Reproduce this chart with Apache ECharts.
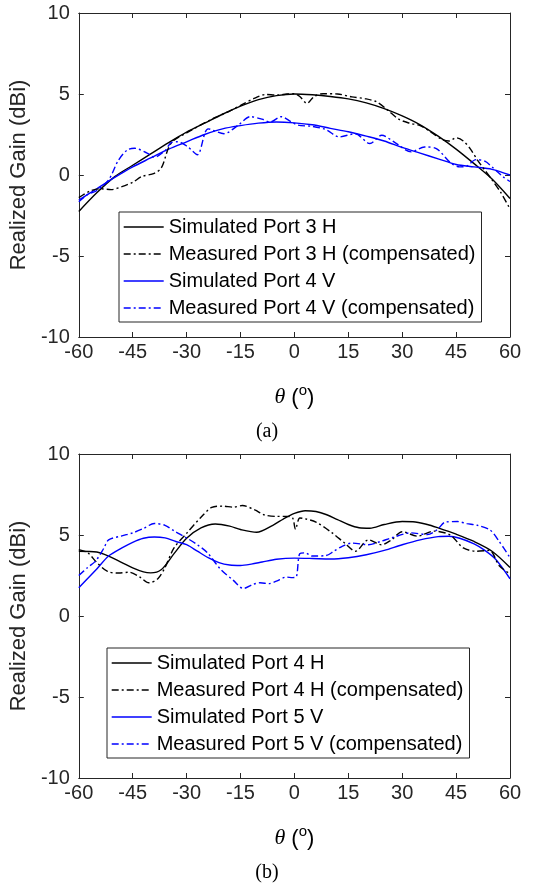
<!DOCTYPE html>
<html>
<head>
<meta charset="utf-8">
<script src="https://cdn.jsdelivr.net/npm/echarts/dist/echarts.min.js"></script>
<style>
html, body { margin: 0; padding: 0; background: #fff; }
#chart { width: 534px; height: 886px; }
</style>
</head>
<body>
<div id="chart"></div>
<script>
// theta axis (deg) and tick values
const xTicks = [-60, -45, -30, -15, 0, 15, 30, 45, 60]
const yTicks = [-10, -5, 0, 5, 10]
const thetaStep5 = [-60, -55, -50, -45, -40, -35, -30, -25, -20, -15, -10, -5, 0, 5, 10, 15, 20, 25, 30, 35, 40, 45, 50, 55, 60]

// (a) Port 3 H / Port 4 V
const simH3 = [-2.25, -1.1, -0.1, 0.6, 1.3, 2.0, 2.65, 3.2, 3.75, 4.25, 4.65, 4.9, 5.0, 4.95, 4.85, 4.7, 4.45, 4.1, 3.65, 3.1, 2.4, 1.6, 0.7, -0.25, -1.45]

const thetaMeasH3 = [-60, -57, -54, -51, -48, -45, -42.5, -39, -37, -35, -33.5, -30, -26, -22, -18, -15, -11, -8, -5, -2, 0, 1.5, 3.5, 5.5, 8, 12, 16, 20, 23, 26, 29, 32, 35, 38, 41, 43, 45, 47, 49, 51, 53, 55, 57.5, 60]
const measH3 = [-1.4, -1.0, -0.85, -0.9, -0.72, -0.45, -0.1, 0.1, 0.45, 1.7, 2.15, 2.6, 3.1, 3.55, 3.95, 4.3, 4.75, 4.97, 4.93, 5.0, 5.02, 4.85, 4.42, 4.85, 5.02, 5.0, 4.82, 4.7, 4.5, 4.0, 3.45, 3.2, 3.05, 2.65, 2.2, 2.1, 2.3, 2.1, 1.6, 0.9, 0.3, -0.3, -1.1, -2.1]

const simV4 = [-1.55, -0.85, -0.15, 0.5, 1.05, 1.6, 2.05, 2.5, 2.85, 3.05, 3.2, 3.27, 3.22, 3.1, 2.88, 2.67, 2.4, 2.1, 1.7, 1.35, 1.0, 0.65, 0.5, 0.35, 0.0]

const thetaMeasV4 = [-60, -57.5, -55.3, -51.7, -49, -46.5, -44.5, -41, -39, -36, -34.3, -32.5, -29.7, -27, -24, -19.6, -15.5, -12.3, -9, -6.8, -3.7, -1, 1, 5, 8.8, 12.5, 16.9, 21, 24.3, 28, 32.5, 36.2, 39.5, 43.5, 46, 48, 50.5, 53, 55.5, 58, 60]
const measV4 = [-1.65, -1.2, -1.0, -0.3, 0.9, 1.55, 1.65, 1.35, 1.1, 1.5, 2.0, 2.05, 1.75, 1.25, 2.85, 2.55, 3.1, 3.6, 3.45, 3.27, 3.6, 3.3, 3.08, 3.0, 2.8, 2.35, 2.55, 1.94, 2.45, 2.0, 1.43, 1.73, 1.63, 0.75, 0.5, 0.55, 0.95, 0.85, 0.4, -0.1, -0.4]

// (b) Port 4 H / Port 5 V
const thetaSimH4 = [-60, -55, -51.7, -48, -45, -42, -40, -37, -33.5, -30, -26, -22, -18, -15, -10.5, -6, -3, 0, 3, 6, 9, 12, 15, 18, 21, 25, 30, 33, 37, 40, 45, 50, 55, 60]
const simH4 = [4.0, 3.95, 3.7, 3.3, 2.97, 2.72, 2.66, 2.87, 3.85, 4.8, 5.44, 5.68, 5.55, 5.34, 5.17, 5.6, 6.0, 6.33, 6.5, 6.45, 6.25, 5.95, 5.65, 5.45, 5.42, 5.65, 5.83, 5.82, 5.65, 5.44, 5.05, 4.6, 4.0, 3.0]

const thetaMeasH4 = [-60, -57.5, -55, -52, -49, -46, -43, -40.5, -38, -36, -33.5, -30, -26, -23, -20, -17, -14.5, -11, -8.5, -5, -2, -0.5, 0.3, 1.5, 3, 6, 10.5, 14, 17, 20.6, 24.2, 27, 30, 34.3, 38.8, 43.4, 47, 50.7, 54.3, 57, 60]
const measH4 = [4.1, 3.9, 3.3, 2.75, 2.65, 2.7, 2.4, 2.05, 2.3, 3.0, 4.2, 5.1, 6.1, 6.7, 6.78, 6.72, 6.82, 6.55, 6.25, 6.15, 6.15, 6.05, 5.35, 6.05, 6.0, 5.8, 5.13, 4.5, 4.0, 4.7, 4.4, 4.7, 5.2, 4.93, 5.24, 5.0, 4.2, 4.0, 4.05, 3.1, 2.6]

const thetaSimV5 = [-60, -55, -51.7, -48, -45, -42, -39, -36, -33, -30, -27, -24, -21, -18, -15, -12, -9, -5, 0, 5, 10, 15, 20, 25, 30, 35, 40, 43, 46, 50, 53, 56, 60]
const simV5 = [1.75, 2.9, 3.7, 4.2, 4.55, 4.8, 4.88, 4.82, 4.6, 4.4, 4.0, 3.6, 3.3, 3.15, 3.12, 3.2, 3.33, 3.5, 3.57, 3.55, 3.52, 3.6, 3.78, 4.05, 4.4, 4.7, 4.9, 4.92, 4.8, 4.45, 4.05, 3.5, 2.3]

const thetaMeasV5 = [-60, -57.5, -55.3, -53, -51.7, -48, -45, -42, -39, -36, -33.4, -30, -27, -24.2, -20.6, -17, -14.2, -11.5, -9.6, -7, -5, -2.3, -0.5, 0.5, 1.5, 3, 5, 8.8, 11, 13.3, 16, 20.6, 24, 27, 32.4, 37, 39.8, 42, 45.4, 48, 50.9, 54.5, 57, 60]
const measV5 = [2.5, 3.0, 3.4, 4.2, 4.7, 4.95, 5.13, 5.4, 5.71, 5.6, 5.24, 4.82, 4.4, 3.9, 2.9, 2.2, 1.7, 1.95, 2.05, 2.0, 2.15, 2.4, 2.37, 2.4, 3.85, 3.9, 3.7, 3.73, 4.0, 4.3, 4.5, 4.4, 4.6, 4.82, 5.13, 5.03, 5.34, 5.8, 5.83, 5.7, 5.6, 5.3, 4.6, 3.6]

const namesTop = ['Simulated Port 3 H', 'Measured Port 3 H (compensated)', 'Simulated Port 4 V', 'Measured Port 4 V (compensated)']
const namesBottom = ['Simulated Port 4 H', 'Measured Port 4 H (compensated)', 'Simulated Port 5 V', 'Measured Port 5 V (compensated)']

const pts = (xs, ys) => xs.map((x, i) => [x, ys[i]])

const axisColor = '#262626'
const sans = 'Liberation Sans'
const dashDot = [7, 3, 2, 3]

const grids = [
	{ left: 73, top: 13, width: 437, height: 324 },
	{ left: 73, top: 454, width: 437, height: 324 },
]

const xAxisFor = (gridIndex, onTop) => ({
	type: 'value',
	gridIndex,
	position: onTop ? 'top' : 'bottom',
	min: xTicks[0],
	max: xTicks[xTicks.length - 1],
	interval: 15,
	name: onTop ? '' : '{t|θ}{p| (}{s|o}{p|)}',
	nameLocation: 'middle',
	nameGap: 46,
	nameTextStyle: {
		rich: {
			t: { fontFamily: 'Liberation Serif', fontStyle: 'italic', fontSize: 22, color: '#000' },
			p: { fontFamily: sans, fontSize: 22, color: '#000' },
			s: { fontFamily: sans, fontSize: 15, color: '#000', padding: [0, 0, 14, 0] },
		},
	},
	axisLine: { show: true, onZero: false, lineStyle: { color: axisColor, width: 1 } },
	axisTick: { show: true, inside: true, length: 5, lineStyle: { color: axisColor } },
	axisLabel: { show: !onTop, fontSize: 20, fontFamily: sans, color: axisColor, margin: 5 },
	splitLine: { show: false },
})

const yAxisFor = (gridIndex, onRight) => ({
	type: 'value',
	gridIndex,
	position: onRight ? 'right' : 'left',
	min: yTicks[0],
	max: yTicks[yTicks.length - 1],
	interval: 5,
	name: onRight ? '' : 'Realized Gain (dBi)',
	nameLocation: 'middle',
	nameGap: 40,
	nameTextStyle: { fontFamily: sans, fontSize: 22, color: axisColor },
	axisLine: { show: true, onZero: false, lineStyle: { color: axisColor, width: 1 } },
	axisTick: { show: true, inside: true, length: 5, lineStyle: { color: axisColor } },
	axisLabel: { show: !onRight, fontSize: 20, fontFamily: sans, color: axisColor, margin: 9 },
	splitLine: { show: false },
})

const lineSeries = (name, data, color, dashed, grid) => ({
	name,
	type: 'line',
	xAxisIndex: grid * 2,
	yAxisIndex: grid * 2,
	data,
	color,
	smooth: 0.3,
	symbol: 'none',
	showSymbol: false,
	lineStyle: { color, width: 1.4, type: dashed ? dashDot : 'solid' },
	z: dashed ? 3 : 2,
})

const legendFor = (names, left, top) => ({
	orient: 'vertical',
	left,
	top,
	data: names,
	itemWidth: 40,
	itemHeight: 20,
	itemGap: 7,
	padding: [5, 6, 4, 4],
	backgroundColor: '#fff',
	borderColor: '#262626',
	borderWidth: 1,
	borderRadius: 0,
	selectedMode: false,
	// hide the marker dot, keep only the line sample
	itemStyle: { opacity: 0 },
	lineStyle: { width: 1.4 },
	textStyle: { fontFamily: sans, fontSize: 20, color: '#000', lineHeight: 20 },
})

const chart = echarts.init(document.getElementById('chart'))

chart.setOption({
	animation: false,
	backgroundColor: '#fff',
	title: [
		{ text: '(a)', left: 'center', top: 422, padding: 0, textStyle: { fontFamily: 'Liberation Serif', fontSize: 20, fontWeight: 'normal', color: '#000' } },
		{ text: '(b)', left: 'center', top: 863, padding: 0, textStyle: { fontFamily: 'Liberation Serif', fontSize: 20, fontWeight: 'normal', color: '#000' } },
	],
	grid: grids,
	xAxis: [xAxisFor(0, false), xAxisFor(0, true), xAxisFor(1, false), xAxisFor(1, true)],
	yAxis: [yAxisFor(0, false), yAxisFor(0, true), yAxisFor(1, false), yAxisFor(1, true)],
	legend: [legendFor(namesTop, 119, 212), legendFor(namesBottom, 107, 648)],
	series: [
		lineSeries(namesTop[0], pts(thetaStep5, simH3), '#000000', false, 0),
		lineSeries(namesTop[1], pts(thetaMeasH3, measH3), '#000000', true, 0),
		lineSeries(namesTop[2], pts(thetaStep5, simV4), '#0000ff', false, 0),
		lineSeries(namesTop[3], pts(thetaMeasV4, measV4), '#0000ff', true, 0),
		lineSeries(namesBottom[0], pts(thetaSimH4, simH4), '#000000', false, 1),
		lineSeries(namesBottom[1], pts(thetaMeasH4, measH4), '#000000', true, 1),
		lineSeries(namesBottom[2], pts(thetaSimV5, simV5), '#0000ff', false, 1),
		lineSeries(namesBottom[3], pts(thetaMeasV5, measV5), '#0000ff', true, 1),
	],
})
</script>
</body>
</html>
